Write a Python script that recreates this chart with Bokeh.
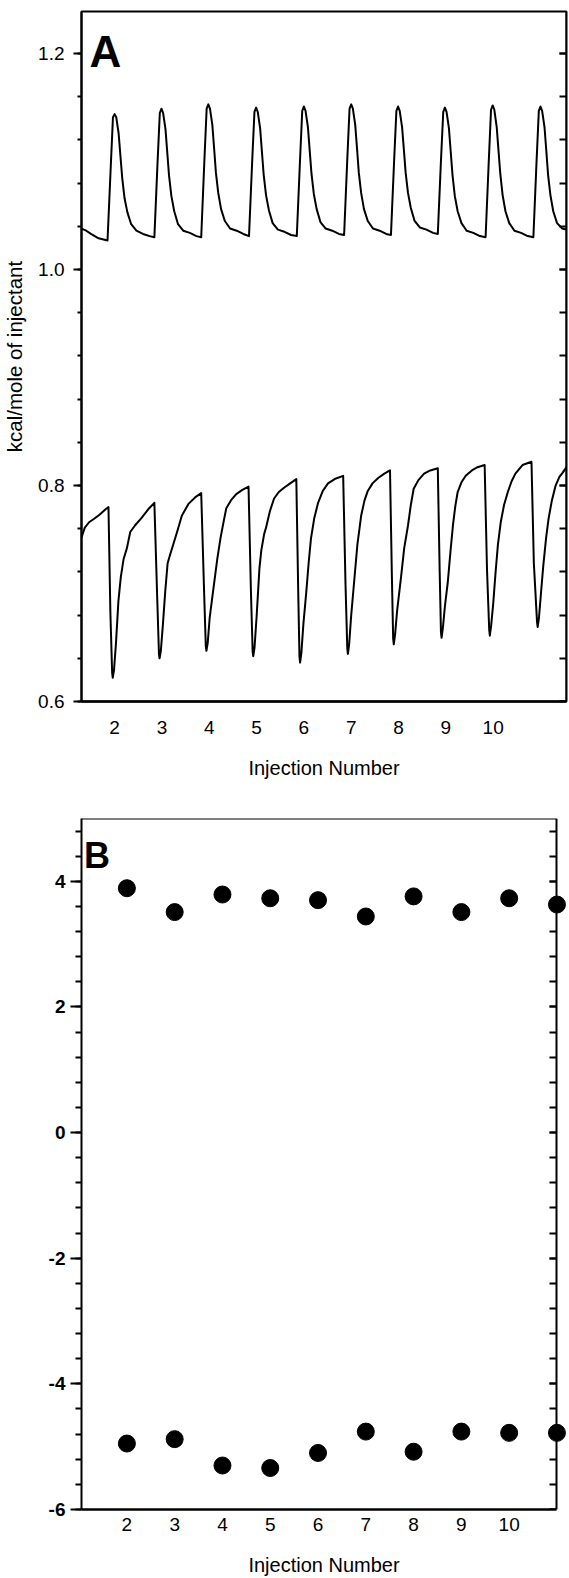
import numpy as np
from math import pi
from bokeh.plotting import figure
from bokeh.layouts import column
from bokeh.models import (Range1d, FixedTicker, LinearAxis, Label, PrintfTickFormatter,
                          CustomJSTickFormatter)
from bokeh.embed import file_html
from bokeh.resources import INLINE

FONT = "Liberation Sans"

# ---------------- Panel A data ----------------
upper_x = [1.30, 1.40, 1.50, 1.66, 1.85,
           1.915, 1.965, 2.00, 2.035, 2.085, 2.125, 2.16, 2.21, 2.27, 2.35, 2.46, 2.60, 2.74, 2.84,
           2.905, 2.955, 2.99, 3.025, 3.075, 3.115, 3.15, 3.20, 3.26, 3.34, 3.45, 3.59, 3.73, 3.83,
           3.895, 3.945, 3.98, 4.015, 4.065, 4.105, 4.14, 4.19, 4.25, 4.33, 4.44, 4.58, 4.72, 4.84,
           4.905, 4.955, 4.99, 5.025, 5.075, 5.115, 5.15, 5.20, 5.26, 5.34, 5.45, 5.59, 5.73, 5.85,
           5.915, 5.965, 6.00, 6.035, 6.085, 6.125, 6.16, 6.21, 6.27, 6.35, 6.46, 6.60, 6.74, 6.85,
           6.915, 6.965, 7.00, 7.035, 7.085, 7.125, 7.16, 7.21, 7.27, 7.35, 7.46, 7.60, 7.74, 7.84,
           7.905, 7.955, 7.99, 8.025, 8.075, 8.115, 8.15, 8.20, 8.26, 8.34, 8.45, 8.59, 8.73, 8.83,
           8.895, 8.945, 8.98, 9.015, 9.065, 9.105, 9.14, 9.19, 9.25, 9.33, 9.44, 9.58, 9.72, 9.84,
           9.905, 9.955, 9.99, 10.025, 10.075, 10.115, 10.15, 10.20, 10.26, 10.34, 10.45, 10.59, 10.73, 10.85,
           10.915, 10.965, 11.00, 11.035, 11.085, 11.125, 11.16, 11.21, 11.27, 11.35, 11.46, 11.55]
upper_y = [1.038, 1.036, 1.033, 1.029, 1.027,
           1.092, 1.141, 1.144, 1.141, 1.126, 1.104, 1.085, 1.066, 1.053, 1.042, 1.036, 1.033, 1.031, 1.030,
           1.097, 1.145, 1.149, 1.145, 1.130, 1.107, 1.087, 1.068, 1.054, 1.042, 1.036, 1.034, 1.031, 1.030,
           1.099, 1.149, 1.153, 1.149, 1.134, 1.111, 1.090, 1.071, 1.056, 1.045, 1.038, 1.036, 1.033, 1.031,
           1.098, 1.146, 1.150, 1.146, 1.131, 1.108, 1.088, 1.069, 1.055, 1.043, 1.037, 1.035, 1.032, 1.031,
           1.098, 1.147, 1.151, 1.147, 1.132, 1.109, 1.089, 1.070, 1.056, 1.044, 1.038, 1.036, 1.033, 1.032,
           1.100, 1.149, 1.153, 1.149, 1.134, 1.111, 1.090, 1.071, 1.056, 1.045, 1.038, 1.036, 1.033, 1.032,
           1.099, 1.147, 1.151, 1.147, 1.132, 1.110, 1.090, 1.071, 1.057, 1.045, 1.039, 1.037, 1.034, 1.033,
           1.099, 1.146, 1.150, 1.146, 1.131, 1.108, 1.088, 1.068, 1.054, 1.043, 1.036, 1.034, 1.031, 1.030,
           1.098, 1.148, 1.152, 1.148, 1.132, 1.109, 1.089, 1.069, 1.054, 1.043, 1.036, 1.034, 1.031, 1.030,
           1.098, 1.147, 1.151, 1.147, 1.132, 1.109, 1.088, 1.069, 1.054, 1.043, 1.038, 1.037]

lower_x = [1.30, 1.37, 1.46, 1.56, 1.68, 1.81, 1.87,
           1.91, 1.947, 1.96, 1.987, 2.03, 2.08, 2.13, 2.19, 2.26, 2.33, 2.43, 2.57, 2.71, 2.84,
           2.90, 2.937, 2.95, 2.977, 3.02, 3.07, 3.12, 3.18, 3.25, 3.32, 3.42, 3.56, 3.70, 3.83,
           3.89, 3.927, 3.94, 3.967, 4.01, 4.06, 4.11, 4.17, 4.24, 4.31, 4.36, 4.47, 4.57, 4.70, 4.83,
           4.88, 4.917, 4.93, 4.957, 5.00, 5.06, 5.10, 5.16, 5.20, 5.28, 5.37, 5.47, 5.58, 5.71, 5.84,
           5.88, 5.907, 5.92, 5.947, 5.99, 6.05, 6.10, 6.15, 6.22, 6.30, 6.40, 6.51, 6.65, 6.83,
           6.88, 6.917, 6.93, 6.957, 7.00, 7.06, 7.13, 7.21, 7.28, 7.35, 7.45, 7.57, 7.70, 7.82,
           7.86, 7.887, 7.90, 7.927, 7.97, 8.05, 8.12, 8.20, 8.26, 8.32, 8.42, 8.54, 8.67, 8.83,
           8.87, 8.897, 8.91, 8.937, 8.98, 9.04, 9.10, 9.15, 9.20, 9.25, 9.33, 9.42, 9.55, 9.67, 9.82,
           9.87, 9.917, 9.93, 9.957, 10.00, 10.05, 10.10, 10.16, 10.23, 10.31, 10.39, 10.47, 10.62, 10.81,
           10.86, 10.927, 10.94, 10.967, 11.01, 11.06, 11.12, 11.17, 11.24, 11.32, 11.40, 11.47, 11.55]
lower_y = [0.752, 0.761, 0.766, 0.769, 0.773, 0.778, 0.780,
           0.683, 0.627, 0.622, 0.629, 0.655, 0.693, 0.715, 0.732, 0.742, 0.757, 0.763, 0.770, 0.778, 0.784,
           0.696, 0.644, 0.640, 0.647, 0.671, 0.702, 0.728, 0.737, 0.747, 0.757, 0.772, 0.783, 0.789, 0.793,
           0.703, 0.651, 0.647, 0.654, 0.678, 0.695, 0.712, 0.732, 0.752, 0.768, 0.779, 0.787, 0.792, 0.796, 0.799,
           0.703, 0.646, 0.642, 0.650, 0.678, 0.723, 0.740, 0.755, 0.761, 0.776, 0.788, 0.794, 0.798, 0.802, 0.806,
           0.702, 0.641, 0.636, 0.645, 0.672, 0.701, 0.728, 0.751, 0.770, 0.784, 0.795, 0.802, 0.806, 0.809,
           0.708, 0.649, 0.644, 0.653, 0.680, 0.710, 0.745, 0.772, 0.786, 0.795, 0.802, 0.807, 0.811, 0.814,
           0.715, 0.658, 0.653, 0.662, 0.684, 0.714, 0.742, 0.763, 0.782, 0.797, 0.805, 0.811, 0.814, 0.816,
           0.720, 0.664, 0.659, 0.668, 0.688, 0.710, 0.740, 0.763, 0.781, 0.794, 0.803, 0.809, 0.814, 0.817, 0.819,
           0.722, 0.666, 0.661, 0.670, 0.690, 0.719, 0.745, 0.766, 0.782, 0.794, 0.804, 0.811, 0.819, 0.822,
           0.728, 0.674, 0.669, 0.677, 0.700, 0.726, 0.752, 0.769, 0.786, 0.800, 0.808, 0.812, 0.817]

a_y_ticks = [0.6, 0.8, 1.0, 1.2]
x_tick_labels = [2, 3, 4, 5, 6, 7, 8, 9, 10]

# ---------------- Panel B data ----------------
injection = [2, 3, 4, 5, 6, 7, 8, 9, 10, 11]
heat_upper = [3.89, 3.51, 3.79, 3.73, 3.70, 3.44, 3.76, 3.51, 3.73, 3.63]
heat_lower = [-4.95, -4.88, -5.30, -5.34, -5.10, -4.76, -5.08, -4.76, -4.78, -4.78]
b_y_ticks = [-6, -4, -2, 0, 2, 4]

blank = CustomJSTickFormatter(code="return ''")


def base_fig(**kw):
    p = figure(output_backend="svg", toolbar_location=None, **kw)
    p.xgrid.visible = False
    p.ygrid.visible = False
    p.outline_line_color = "black"
    p.outline_line_width = 2
    p.background_fill_color = "white"
    p.border_fill_color = "white"
    return p


def right_axis(ticks, minor, loc):
    return LinearAxis(ticker=FixedTicker(ticks=ticks, minor_ticks=minor), formatter=blank,
                      fixed_location=loc,
                      major_tick_in=7, major_tick_out=0, minor_tick_in=7, minor_tick_out=0,
                      major_tick_line_width=2, minor_tick_line_width=2, axis_line_width=2,
                      major_label_standoff=0)


def bottom_axis(ax, standoff, title_standoff):
    ax.ticker = FixedTicker(ticks=x_tick_labels)
    ax.major_tick_out = 0
    ax.major_tick_in = 0
    ax.minor_tick_out = 0
    ax.minor_tick_in = 0
    ax.axis_line_width = 2.5
    ax.major_label_standoff = standoff
    ax.major_label_text_font = FONT
    ax.major_label_text_font_size = "19px"
    ax.major_label_text_color = "black"
    ax.axis_label = "Injection Number"
    ax.axis_label_text_font = FONT
    ax.axis_label_text_font_size = "20px"
    ax.axis_label_text_font_style = "normal"
    ax.axis_label_text_color = "black"
    ax.axis_label_standoff = title_standoff


# ================= Panel A =================
pA = base_fig(width=569, height=790,
              x_range=Range1d(1.30, 11.55), y_range=Range1d(0.6, 1.239),
              min_border_left=80, min_border_right=3, min_border_top=11, min_border_bottom=89)

pA.line(upper_x, upper_y, line_color="black", line_width=2, line_join="round")
pA.line(lower_x, lower_y, line_color="black", line_width=2, line_join="round")

a_minor = list(np.round(np.arange(0.6, 1.24, 0.04), 3))
ya = pA.left[0]
ya.ticker = FixedTicker(ticks=a_y_ticks, minor_ticks=a_minor)
ya.formatter = PrintfTickFormatter(format="%.1f")
ya.major_tick_out = 8
ya.major_tick_in = 0
ya.minor_tick_out = 4
ya.minor_tick_in = 0
ya.major_tick_line_width = 2
ya.minor_tick_line_width = 2
ya.axis_line_width = 2
ya.major_label_standoff = 9
ya.major_label_text_font = FONT
ya.major_label_text_font_size = "19px"
ya.major_label_text_color = "black"
ya.axis_label = "kcal/mole of injectant"
ya.axis_label_text_font = FONT
ya.axis_label_text_font_size = "20.5px"
ya.axis_label_text_font_style = "normal"
ya.axis_label_text_color = "black"
ya.axis_label_standoff = 9

bottom_axis(pA.below[0], 19, 20)
pA.add_layout(right_axis(a_y_ticks, a_minor, pA.x_range.end), "right")

pA.add_layout(Label(x=1.47, y=1.202, text="A", text_font=FONT, text_font_size="44px",
                    text_font_style="bold", text_color="black", text_baseline="alphabetic"))

# ================= Panel B =================
b_x_start, b_x_border, b_x_end = 1.05, 11.0, 11.2
pB = base_fig(width=569, height=788,
              x_range=Range1d(b_x_start, b_x_end), y_range=Range1d(-6, 5),
              min_border_left=76, min_border_right=3, min_border_top=28, min_border_bottom=67)
pB.outline_line_color = None

pB.scatter(injection, heat_upper, size=17, fill_color="black", line_color="black")
pB.scatter(injection, heat_lower, size=17, fill_color="black", line_color="black")

b_minor = list(np.round(np.arange(-6, 5.01, 0.4), 2))
yb = pB.left[0]
yb.ticker = FixedTicker(ticks=b_y_ticks, minor_ticks=b_minor)
yb.formatter = PrintfTickFormatter(format="%d")
yb.major_tick_out = 11
yb.major_tick_in = 0
yb.minor_tick_out = 6
yb.minor_tick_in = 0
yb.major_tick_line_width = 2
yb.minor_tick_line_width = 2
yb.axis_line_width = 2
yb.major_label_standoff = 5
yb.major_label_text_font = FONT
yb.major_label_text_font_size = "19px"
yb.major_label_text_font_style = "bold"
yb.major_label_text_color = "black"

xb = pB.below[0]
bottom_axis(xb, 8, 20)
xb.bounds = (b_x_start, b_x_border)

pB.add_layout(right_axis(b_y_ticks, b_minor, b_x_border), "right")
top_b = LinearAxis(ticker=FixedTicker(ticks=[]), formatter=blank, fixed_location=pB.y_range.end,
                   bounds=(b_x_start, b_x_border), axis_line_width=2,
                   major_tick_in=0, major_tick_out=0, minor_tick_in=0, minor_tick_out=0,
                   major_label_standoff=0)
pB.add_layout(top_b, "above")

pB.add_layout(Label(x=1.10, y=4.41, text="B", text_font=FONT, text_font_size="36px",
                    text_font_style="bold", text_color="black", text_baseline="alphabetic"))
pB.add_layout(Label(x=-0.17, y=0.45, text="kcal/mole of injectant", angle=pi / 2,
                    text_font=FONT, text_font_size="20.5px", text_color="black",
                    text_align="center", text_baseline="middle"))

layout = column(pA, pB, spacing=0)
open("out.html", "w").write(file_html(layout, INLINE))
